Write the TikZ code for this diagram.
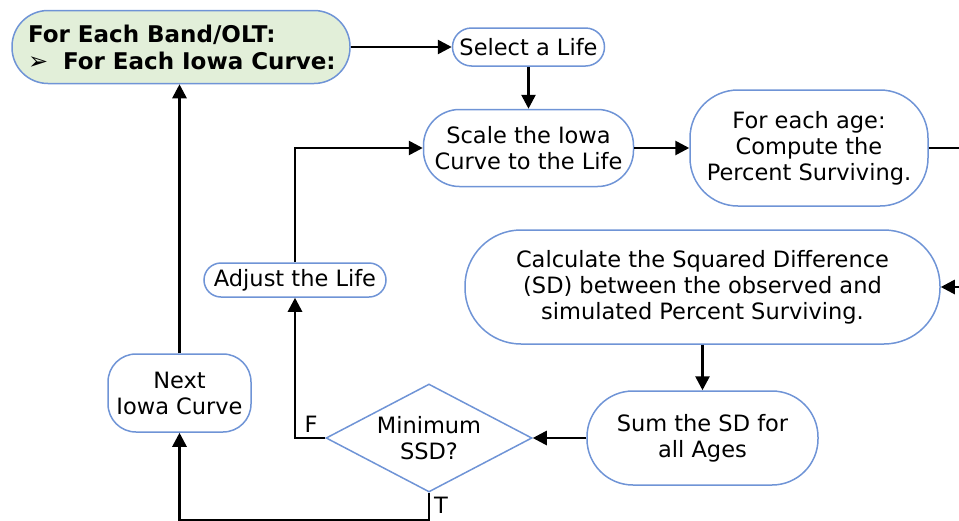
\documentclass[tikz,border=0pt]{standalone}
\usepackage{fontspec}
\setmainfont{DejaVu Sans}
\usetikzlibrary{shapes.geometric,arrows.meta}
\definecolor{bord}{HTML}{6F94D6}
\definecolor{grn}{HTML}{E2EFD9}
\begin{document}
\begin{tikzpicture}[x=1pt,y=-1pt,
 box/.style={draw=bord,line width=1.5pt,rectangle,align=center,inner sep=0pt,font=\fontsize{22.5}{26}\selectfont},
 conn/.style={line width=2.7pt,-{Triangle[length=14pt,width=14pt]}},
 lbl/.style={font=\fontsize{22.5}{26}\selectfont,inner sep=0pt}]
\useasboundingbox (0,0) rectangle (959,520);
\clip (0,0) rectangle (959,520);
\node[box,fill=grn,minimum width=338,minimum height=73,rounded corners=36,align=left,font=\fontsize{23}{27}\selectfont] (band) at (181,47)
  {\makebox[306pt][l]{\textbf{For Each Band/OLT:}}\\\makebox[306pt][l]{\makebox[35pt][l]{\fontsize{24}{27}\selectfont ➢}\textbf{For Each Iowa Curve:}}};
\node[box,minimum width=152,minimum height=38,rounded corners=19] (sel) at (528.5,47) {Select a Life};
\node[box,minimum width=210,minimum height=77,rounded corners=36] (scale) at (528.5,148) {Scale the Iowa\\Curve to the Life};
\node[box,minimum width=238,minimum height=116,rounded corners=48] (age) at (809,148) {For each age:\\Compute the\\Percent Surviving.};
\node[box,minimum width=475,minimum height=114,rounded corners=56] (calc) at (702.5,287) {Calculate the Squared Difference\\(SD) between the observed and\\simulated Percent Surviving.};
\node[box,minimum width=231,minimum height=94,rounded corners=46] (sum) at (702.5,438) {Sum the SD for\\all Ages};
\node[box,shape=diamond,minimum width=206,minimum height=108] (dia) at (429,438) {};
\node[lbl,align=center] (diatext) at (dia.center) {Minimum\\SSD?};
\node[box,minimum width=143,minimum height=78,rounded corners=28] (next) at (179.5,393) {Next\\Iowa Curve};
\node[box,minimum width=182,minimum height=34,rounded corners=17] (adj) at (295,280) {Adjust the Life};
\node[lbl] (f) at (311,424) {F};
\node[lbl] (t) at (441,505) {T};
\draw[conn] (band.east) -- (sel.west);
\draw[conn] (sel.south) -- (scale.north);
\draw[conn] (scale.east) -- (age.west);
\draw[conn] (age.east) -- ++(60,0) |- (calc.east);
\draw[conn] (calc.south) -- (sum.north);
\draw[conn] (sum.west) -- (dia.east);
\draw[conn] (dia.west) -| (adj.south);
\draw[conn] (adj.north) |- (scale.west);
\draw[conn] (dia.south) -- ++(0,27.5) -| (next.south);
\draw[conn] (next.north) -- (next.north |- band.south);
\end{tikzpicture}
\end{document}
